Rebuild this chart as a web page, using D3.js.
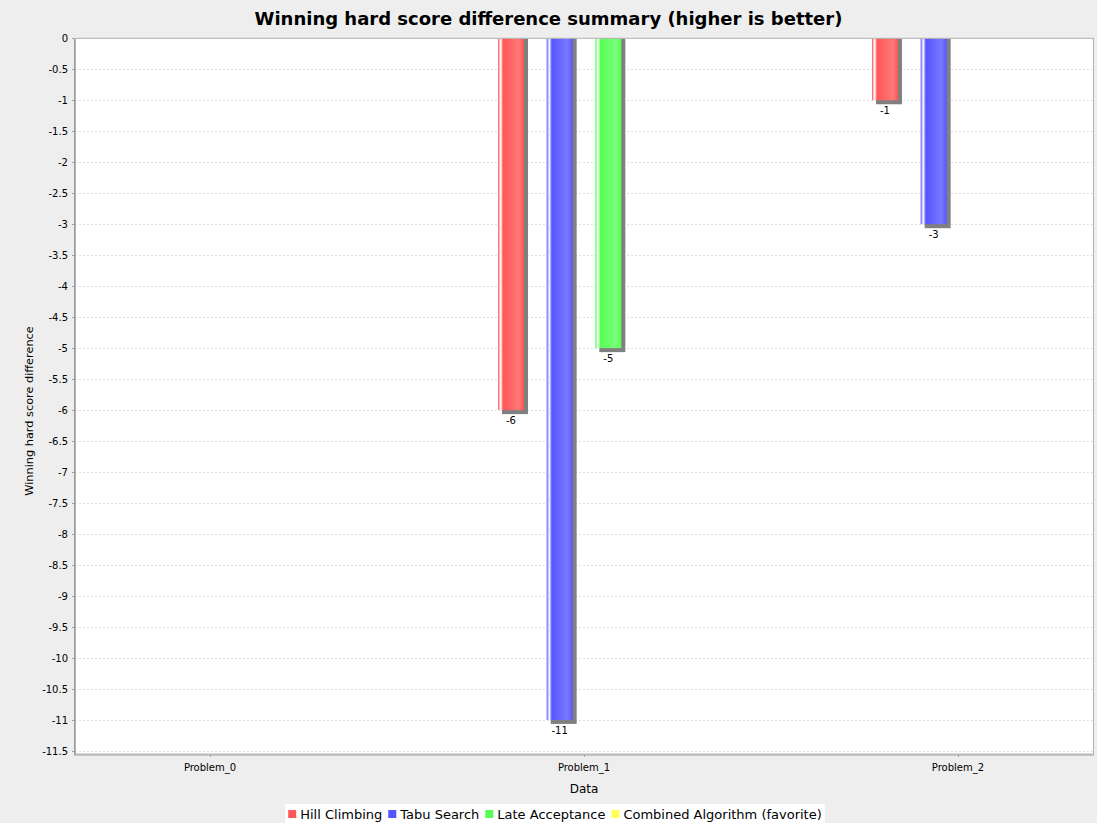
<!DOCTYPE html>
<html>
<head>
<meta charset="utf-8">
<script src="https://cdn.jsdelivr.net/npm/d3@7"></script>
<style>
  body { margin: 0; background: #eeeeee; }
  svg { display: block; }
  text { font-family: "DejaVu Sans", sans-serif; fill: #000; }
</style>
</head>
<body>
<svg id="chart" width="1097" height="823"></svg>
<script>
// Benchmark summary data
const categories = ["Problem_0", "Problem_1", "Problem_2"];
const seriesNames = ["Hill Climbing", "Tabu Search", "Late Acceptance", "Combined Algorithm (favorite)"];
const hillClimbing = [null, -6, -1];
const tabuSearch = [null, -11, -3];
const lateAcceptance = [null, -5, null];
const combinedAlgorithm = [null, null, null];
const yTickValues = [0, -0.5, -1, -1.5, -2, -2.5, -3, -3.5, -4, -4.5, -5, -5.5, -6, -6.5, -7,
  -7.5, -8, -8.5, -9, -9.5, -10, -10.5, -11, -11.5];

const seriesValues = [hillClimbing, tabuSearch, lateAcceptance, combinedAlgorithm];
const seriesColors = ["#ff5555", "#5555ff", "#55ff55", "#ffff55"];
const seriesBright = ["#ff7979", "#7979ff", "#79ff79", "#ffff79"];

const W = 1097, H = 823;
const plot = { left: 75, right: 1093, top: 38.3, bottom: 754 };

const svg = d3.select("#chart");

// Title
svg.append("text")
  .attr("x", W / 2).attr("y", 25)
  .attr("text-anchor", "middle")
  .style("font-size", "18px").style("font-weight", "bold")
  .text("Winning hard score difference summary (higher is better)");

// Scales
const x = d3.scalePoint().domain(categories).range([plot.left, plot.right]).padding(0.361);
const xInner = d3.scaleBand().domain(seriesNames).range([-86, 86]).paddingInner(0.466);
const y = d3.scaleLinear().domain([-11.55, 0]).range([plot.bottom, plot.top]);

// Gradients for bars (highlight stripe on the left, lighter towards the right)
const defs = svg.append("defs");
seriesNames.forEach((name, i) => {
  const g = defs.append("linearGradient")
    .attr("id", "grad" + i)
    .attr("x1", "0").attr("x2", "1").attr("y1", "0").attr("y2", "0");
  [[0, seriesColors[i]], [0.1, "#ffffff"], [0.2, seriesColors[i]], [0.8, seriesBright[i]], [1, seriesColors[i]]]
    .forEach(([o, c]) => g.append("stop").attr("offset", o).attr("stop-color", c));
});
defs.append("clipPath").attr("id", "plotClip")
  .append("rect")
  .attr("x", plot.left).attr("y", plot.top)
  .attr("width", plot.right - plot.left).attr("height", plot.bottom - plot.top);

// Plot background
svg.append("rect")
  .attr("x", plot.left).attr("y", plot.top)
  .attr("width", plot.right - plot.left).attr("height", plot.bottom - plot.top)
  .attr("fill", "#ffffff");

// Gridlines
svg.append("g").selectAll("line")
  .data(yTickValues)
  .join("line")
  .attr("x1", plot.left).attr("x2", plot.right)
  .attr("y1", d => Math.round(y(d)) + 0.5).attr("y2", d => Math.round(y(d)) + 0.5)
  .attr("stroke", "#e0e0e0").attr("stroke-width", 1)
  .attr("stroke-dasharray", "2,2");

// Bars with shadows
const items = [];
seriesNames.forEach((name, s) => {
  categories.forEach((cat, c) => {
    const v = seriesValues[s][c];
    if (v !== null && v !== undefined) items.push({ name, s, cat, v });
  });
});

const barLayer = svg.append("g").attr("clip-path", "url(#plotClip)");
const bw = xInner.bandwidth();

barLayer.selectAll("rect.shadow")
  .data(items)
  .join("rect")
  .attr("class", "shadow")
  .attr("x", d => x(d.cat) + xInner(d.name) + 4)
  .attr("y", y(0))
  .attr("width", bw)
  .attr("height", d => y(d.v) - y(0) + 4)
  .attr("fill", "#808080");

barLayer.selectAll("rect.bar")
  .data(items)
  .join("rect")
  .attr("class", "bar")
  .attr("x", d => x(d.cat) + xInner(d.name))
  .attr("y", y(0))
  .attr("width", bw)
  .attr("height", d => y(d.v) - y(0))
  .attr("fill", d => "url(#grad" + d.s + ")");

// Value labels
svg.append("g").selectAll("text")
  .data(items)
  .join("text")
  .attr("x", d => x(d.cat) + xInner(d.name) + bw / 2)
  .attr("y", d => y(d.v) + 14)
  .attr("text-anchor", "middle")
  .style("font-size", "10px")
  .text(d => String(d.v));

// Plot outline
svg.append("rect")
  .attr("x", plot.left + 0.5).attr("y", plot.top)
  .attr("width", plot.right - plot.left).attr("height", plot.bottom - plot.top)
  .attr("fill", "none").attr("stroke", "#b4b4b4").attr("stroke-width", 1);

// Y axis
const yAxis = svg.append("g");
yAxis.append("line")
  .attr("x1", plot.left - 0.5).attr("x2", plot.left - 0.5)
  .attr("y1", plot.top).attr("y2", plot.bottom + 1)
  .attr("stroke", "#a0a0a0");
yAxis.selectAll("line.tick")
  .data(yTickValues)
  .join("line")
  .attr("class", "tick")
  .attr("x1", plot.left - 3).attr("x2", plot.left - 1)
  .attr("y1", d => Math.round(y(d)) + 0.5).attr("y2", d => Math.round(y(d)) + 0.5)
  .attr("stroke", "#a0a0a0");
yAxis.selectAll("text")
  .data(yTickValues)
  .join("text")
  .attr("x", 68)
  .attr("y", d => y(d) + 3.6)
  .attr("text-anchor", "end")
  .style("font-size", "10px")
  .text(d => String(d));

svg.append("text")
  .attr("transform", "translate(33,411) rotate(-90)")
  .attr("text-anchor", "middle")
  .style("font-size", "11.3px")
  .text("Winning hard score difference");

// X axis
const xAxis = svg.append("g");
xAxis.append("line")
  .attr("x1", plot.left - 1).attr("x2", plot.right + 1)
  .attr("y1", plot.bottom + 1).attr("y2", plot.bottom + 1)
  .attr("stroke", "#a0a0a0");
xAxis.selectAll("line.tick")
  .data(categories)
  .join("line")
  .attr("class", "tick")
  .attr("x1", d => Math.round(x(d)) + 0.5).attr("x2", d => Math.round(x(d)) + 0.5)
  .attr("y1", plot.bottom + 1).attr("y2", plot.bottom + 3)
  .attr("stroke", "#a0a0a0");
xAxis.selectAll("text")
  .data(categories)
  .join("text")
  .attr("x", d => x(d))
  .attr("y", 771)
  .attr("text-anchor", "middle")
  .style("font-size", "10px")
  .text(d => d);

svg.append("text")
  .attr("x", (plot.left + plot.right) / 2)
  .attr("y", 793)
  .attr("text-anchor", "middle")
  .style("font-size", "12px")
  .text("Data");

// Legend
const legend = svg.append("g");
const legendBg = legend.append("rect").attr("fill", "#ffffff");
let cursor = 0;
seriesNames.forEach((name, i) => {
  legend.append("rect")
    .attr("x", cursor).attr("y", 810)
    .attr("width", 8).attr("height", 8)
    .attr("fill", seriesColors[i]);
  const t = legend.append("text")
    .attr("x", cursor + 12).attr("y", 818.5)
    .style("font-size", "13px")
    .text(name);
  const len = t.node().getComputedTextLength();
  cursor += 12 + len + 6;
});
const legendWidth = cursor - 6;
const legendLeft = 555 - legendWidth / 2;
legend.attr("transform", `translate(${legendLeft},0)`);
legendBg.attr("x", -3).attr("y", 804).attr("width", legendWidth + 6).attr("height", 19);
</script>
</body>
</html>
